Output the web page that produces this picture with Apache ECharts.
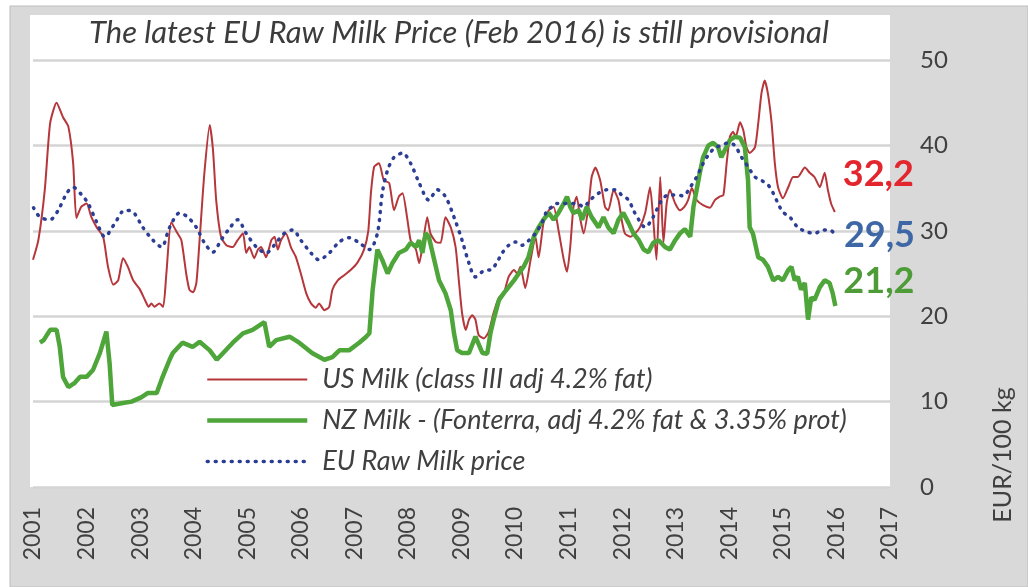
<!DOCTYPE html>
<html>
<head>
<meta charset="utf-8">
<title>Milk prices</title>
<script src="https://cdn.jsdelivr.net/npm/echarts@6/dist/echarts.min.js"></script>
<style>
  html, body { margin: 0; padding: 0; background: #fff; }
  #lineChart { width: 1028px; height: 587px; }
</style>
</head>
<body>
<div id="lineChart"></div>
<script>
// time in years since Jan 2001, price in EUR/100 kg
const usT = [0.00, 0.10, 0.22, 0.32, 0.44, 0.56, 0.66, 0.75, 0.81, 0.90, 1.00, 1.09, 1.19, 1.31, 1.40, 1.50, 1.59, 1.68, 1.77, 1.87,
  1.99, 2.09, 2.16, 2.21, 2.27, 2.36, 2.43, 2.49, 2.58, 2.68, 2.77, 2.86, 2.92, 2.99, 3.05, 3.11, 3.20, 3.30, 3.36, 3.42,
  3.51, 3.61, 3.73, 3.82, 3.92, 3.98, 4.04, 4.13, 4.20, 4.26, 4.35, 4.45, 4.51, 4.57, 4.63, 4.72, 4.82, 4.91, 5.00, 5.10,
  5.19, 5.28, 5.34, 5.44, 5.53, 5.59, 5.69, 5.81, 5.93, 6.06, 6.18, 6.26, 6.31, 6.37, 6.46, 6.55, 6.65, 6.74, 6.83, 6.90,
  6.99, 7.05, 7.15, 7.21, 7.27, 7.36, 7.42, 7.52, 7.61, 7.70, 7.80, 7.89, 7.95, 8.01, 8.08, 8.14, 8.20, 8.26, 8.32, 8.42,
  8.51, 8.60, 8.70, 8.79, 8.88, 8.98, 9.04, 9.10, 9.19, 9.29, 9.38, 9.44, 9.53, 9.63, 9.72, 9.81, 9.91, 9.97, 10.03, 10.09,
  10.15, 10.22, 10.28, 10.37, 10.43, 10.50, 10.59, 10.68, 10.74, 10.84, 10.93, 10.99, 11.05, 11.15, 11.24, 11.33, 11.43, 11.52, 11.58, 11.64,
  11.71, 11.77, 11.83, 11.89, 11.99, 12.08, 12.16, 12.23, 12.30, 12.39, 12.51, 12.64, 12.73, 12.82, 12.89, 12.95, 13.01, 13.07, 13.12, 13.20,
  13.26, 13.32, 13.38, 13.48, 13.54, 13.60, 13.66, 13.72, 13.79, 13.85, 13.91, 14.00, 14.10, 14.19, 14.28, 14.41, 14.50, 14.59, 14.69, 14.78,
  14.84, 14.90, 14.97];
const usPrice = [26.6, 28.9, 34.8, 42.6, 45.0, 43.3, 42.2, 37.9, 31.5, 32.8, 33.2, 31.6, 30.4, 29.3, 25.8, 23.7, 24.2, 26.8, 25.8, 24.2,
  23.2, 21.9, 21.1, 21.5, 21.1, 21.5, 21.1, 25.0, 31.0, 29.9, 28.9, 25.0, 23.1, 22.8, 23.9, 28.9, 36.8, 42.4, 39.5, 33.6,
  29.3, 28.3, 28.1, 28.9, 29.7, 27.4, 28.1, 26.8, 27.8, 28.1, 26.9, 28.9, 29.3, 27.8, 28.9, 29.7, 28.0, 26.9, 25.0, 22.7,
  21.5, 21.0, 21.5, 20.7, 21.1, 23.1, 24.2, 24.8, 25.4, 26.3, 27.8, 30.0, 34.5, 37.5, 37.9, 35.9, 35.6, 32.4, 34.0, 34.4,
  31.3, 28.9, 27.8, 26.2, 28.1, 31.6, 29.7, 28.7, 28.6, 31.6, 30.4, 28.1, 24.2, 20.4, 18.4, 19.6, 20.1, 19.6, 17.8, 17.4,
  18.2, 20.4, 22.2, 22.7, 24.6, 25.4, 25.0, 25.8, 23.3, 26.6, 29.3, 26.9, 30.9, 32.4, 32.8, 30.1, 26.6, 25.2, 28.1, 32.8,
  34.0, 31.3, 29.7, 32.8, 36.3, 37.4, 35.9, 32.8, 32.4, 34.8, 33.6, 31.3, 29.7, 29.3, 29.7, 30.4, 32.1, 35.1, 31.3, 26.6,
  36.3, 28.6, 33.2, 34.8, 33.2, 32.4, 32.8, 33.6, 35.0, 33.6, 33.0, 32.7, 33.6, 34.0, 34.2, 37.9, 41.0, 41.6, 41.0, 42.7,
  41.8, 39.8, 39.1, 39.8, 42.6, 46.1, 47.6, 46.1, 42.6, 37.9, 35.1, 33.8, 35.1, 36.3, 36.3, 37.4, 36.8, 36.3, 35.1, 36.8,
  34.8, 33.2, 32.2];

const nzT = [0.13, 0.20, 0.32, 0.44, 0.50, 0.56, 0.66, 0.78, 0.88, 1.00, 1.12, 1.25, 1.37, 1.43, 1.48, 1.65, 1.84, 2.02, 2.14, 2.31,
  2.42, 2.55, 2.61, 2.79, 2.98, 3.11, 3.30, 3.43, 3.55, 3.73, 3.92, 4.10, 4.32, 4.41, 4.54, 4.79, 4.97, 5.21, 5.44, 5.59,
  5.72, 5.90, 6.09, 6.22, 6.28, 6.34, 6.43, 6.52, 6.62, 6.71, 6.83, 6.96, 7.05, 7.15, 7.21, 7.27, 7.33, 7.39, 7.49, 7.58,
  7.70, 7.80, 7.86, 7.92, 8.01, 8.14, 8.26, 8.39, 8.48, 8.54, 8.60, 8.70, 8.79, 8.88, 8.98, 9.07, 9.16, 9.25, 9.35, 9.44,
  9.53, 9.63, 9.72, 9.81, 9.91, 9.97, 10.03, 10.09, 10.19, 10.25, 10.34, 10.43, 10.56, 10.65, 10.74, 10.84, 10.93, 11.02, 11.12, 11.21,
  11.31, 11.40, 11.49, 11.58, 11.68, 11.80, 11.89, 11.99, 12.08, 12.17, 12.27, 12.33, 12.39, 12.45, 12.51, 12.61, 12.70, 12.79, 12.85, 12.92,
  13.01, 13.10, 13.20, 13.29, 13.35, 13.38, 13.44, 13.54, 13.63, 13.72, 13.82, 13.91, 14.00, 14.10, 14.16, 14.22, 14.28, 14.34, 14.41, 14.47,
  14.53, 14.59, 14.69, 14.78, 14.87, 14.93, 14.98];
const nzPrice = [16.9, 17.2, 18.4, 18.4, 16.4, 12.9, 11.7, 12.2, 12.9, 12.9, 13.7, 15.7, 18.2, 14.5, 9.6, 9.8, 10.0, 10.5, 11.0, 11.0,
  12.9, 14.9, 15.7, 16.9, 16.4, 17.0, 16.0, 14.9, 15.7, 16.9, 18.0, 18.4, 19.3, 16.4, 17.2, 17.6, 16.9, 15.7, 14.9, 15.2,
  16.0, 16.0, 16.9, 17.6, 18.0, 23.0, 27.8, 26.6, 25.0, 26.2, 27.4, 27.8, 28.6, 28.1, 28.9, 27.4, 29.7, 29.3, 26.6, 24.2,
  22.7, 20.7, 18.0, 16.0, 15.7, 15.7, 17.6, 15.7, 15.6, 18.0, 19.6, 21.9, 22.7, 23.4, 24.2, 25.0, 25.8, 26.9, 29.3, 30.4,
  31.3, 32.1, 31.3, 32.1, 33.2, 34.0, 32.8, 32.1, 32.4, 31.3, 32.8, 31.6, 30.4, 31.6, 30.4, 29.7, 31.3, 32.1, 30.9, 29.7,
  28.9, 27.8, 27.5, 28.6, 28.9, 28.1, 27.8, 28.9, 29.7, 30.2, 29.3, 32.8, 34.8, 36.8, 38.6, 40.0, 40.3, 39.8, 38.6, 39.5,
  40.6, 41.0, 40.9, 39.8, 35.9, 30.4, 29.7, 26.9, 26.6, 25.8, 24.2, 24.6, 24.2, 25.4, 25.8, 24.2, 24.6, 23.1, 23.9, 19.6,
  22.2, 21.9, 23.4, 24.2, 23.9, 22.7, 21.2];

const euT = [0.01, 0.13, 0.32, 0.47, 0.63, 0.75, 0.91, 1.03, 1.19, 1.34, 1.53, 1.71, 1.87, 2.05, 2.24, 2.40, 2.55, 2.74, 2.89, 3.05,
  3.20, 3.36, 3.51, 3.67, 3.82, 3.98, 4.17, 4.35, 4.54, 4.69, 4.85, 5.00, 5.19, 5.34, 5.53, 5.72, 5.90, 6.09, 6.28, 6.43,
  6.52, 6.62, 6.74, 6.90, 7.05, 7.21, 7.39, 7.55, 7.70, 7.86, 8.01, 8.14, 8.26, 8.45, 8.54, 8.66, 8.76, 8.88, 9.01, 9.13,
  9.26, 9.38, 9.50, 9.60, 9.69, 9.78, 9.91, 10.03, 10.15, 10.28, 10.40, 10.56, 10.71, 10.87, 10.99, 11.12, 11.21, 11.31, 11.43, 11.55,
  11.64, 11.74, 11.86, 11.99, 12.14, 12.27, 12.39, 12.48, 12.61, 12.73, 12.85, 12.98, 13.10, 13.23, 13.35, 13.48, 13.60, 13.72, 13.82, 13.91,
  14.00, 14.13, 14.28, 14.44, 14.59, 14.75, 14.87, 14.99];
const euPrice = [32.7, 31.6, 31.3, 32.4, 34.4, 35.1, 34.2, 33.2, 31.0, 29.3, 30.9, 32.4, 32.2, 30.4, 28.9, 28.1, 30.4, 32.1, 31.6, 30.4,
  28.6, 27.5, 28.9, 30.3, 31.3, 29.7, 28.1, 27.4, 28.6, 29.7, 30.1, 28.9, 27.4, 26.6, 27.4, 28.7, 29.2, 28.6, 27.8, 29.7,
  34.4, 37.1, 38.6, 39.1, 37.9, 35.6, 33.6, 34.8, 34.0, 31.6, 28.9, 26.2, 24.6, 25.4, 25.4, 26.3, 27.4, 28.3, 28.7, 28.3,
  28.9, 29.7, 30.9, 32.4, 32.8, 33.2, 33.2, 33.2, 33.2, 32.8, 33.6, 34.4, 34.8, 34.8, 34.2, 33.6, 32.4, 31.3, 30.4, 31.3,
  32.4, 33.6, 34.2, 34.2, 34.1, 35.1, 36.3, 37.5, 38.9, 39.7, 40.0, 40.3, 40.0, 38.6, 37.5, 36.3, 35.9, 35.4, 34.4, 33.2,
  32.2, 31.6, 30.4, 29.9, 29.7, 30.1, 30.1, 29.5];

const seriesNames = ['US Milk (class III adj 4.2% fat)', 'NZ Milk - (Fonterra, adj 4.2% fat & 3.35% prot)', 'EU Raw Milk price'];
const seriesColors = ['#b5373b', '#4ea53a', '#2c3d94'];
const labelColors = ['#e3262d', '#4e9c37', '#3e67a6'];
const startYear = 2001;
const endYear = 2017;

function toPoints(times, values) {
  return times.map((t, i) => [startYear + t, values[i]]);
}

function commaLabel(params) {
  return params.value[1].toFixed(1).replace('.', ',');
}

let chartContainer = document.getElementById('lineChart');
let myChart = echarts.init(chartContainer);
const font = 'Lato, "Open Sans", sans-serif';

let lineStyles = [
  { color: seriesColors[0], width: 2 },
  { color: seriesColors[1], width: 4.5 },
  { color: seriesColors[2], width: 3.5, type: [1, 7], cap: 'round' }
];

let option = {
  animation: false,
  textStyle: { fontFamily: font },
  graphic: [
    {
      type: 'rect', z: -10, silent: true,
      shape: { x: 10, y: 6, width: 1018, height: 581 },
      style: { fill: '#d9d9d9', stroke: '#bdbdbd', lineWidth: 1 }
    },
    {
      type: 'rect', z: -9, silent: true,
      shape: { x: 30, y: 15, width: 860, height: 472 },
      style: { fill: '#ffffff' }
    },
    {
      type: 'text', silent: true,
      x: 459, y: 33,
      style: {
        text: 'The latest EU Raw Milk Price (Feb 2016) is still provisional',
        fill: '#3c3c3c', fontSize: 31, fontStyle: 'italic', fontFamily: font,
        align: 'center', verticalAlign: 'middle', textAlign: 'center', textVerticalAlign: 'middle'
      }
    },
    {
      type: 'text', silent: true,
      x: 1003, y: 455, rotation: Math.PI / 2,
      style: {
        text: 'EUR/100 kg', fill: '#404040', fontSize: 25, fontFamily: font,
        align: 'center', verticalAlign: 'middle', textAlign: 'center', textVerticalAlign: 'middle'
      }
    }
  ],
  grid: {
    left: 33,
    right: 138,
    top: 60,
    bottom: 100
  },
  legend: {
    orient: 'vertical',
    left: 205,
    top: 366,
    padding: 0,
    itemWidth: 100,
    itemHeight: 14,
    itemGap: 14,
    data: seriesNames.map((name, i) => ({ name: name, lineStyle: lineStyles[i] })),
    itemStyle: { opacity: 0 },
    textStyle: {
      fontSize: 27,
      fontStyle: 'italic',
      color: '#404040',
      padding: [0, 0, 0, 10]
    }
  },
  xAxis: {
    type: 'value',
    min: startYear,
    max: endYear,
    interval: 1,
    axisLine: { show: false },
    axisTick: { show: false },
    splitLine: { show: false },
    axisLabel: {
      rotate: 90,
      margin: 20,
      fontSize: 23,
      color: '#404040',
      formatter: value => String(value)
    }
  },
  yAxis: {
    type: 'value',
    position: 'right',
    min: 0,
    max: 50,
    interval: 10,
    axisLine: { show: false },
    axisTick: { show: false },
    axisLabel: {
      margin: 30,
      fontSize: 24,
      color: '#404040'
    },
    splitLine: {
      lineStyle: { color: '#d4d4d4', width: 2.5 }
    }
  },
  series: [
    {
      name: seriesNames[0],
      type: 'line',
      symbol: 'none',
      smooth: 0.2,
      data: toPoints(usT, usPrice),
      lineStyle: lineStyles[0],
      itemStyle: { color: seriesColors[0] },
      endLabel: {
        show: true, formatter: commaLabel, offset: [0, -38],
        fontSize: 36, fontWeight: 'bold', color: labelColors[0]
      }
    },
    {
      name: seriesNames[1],
      type: 'line',
      symbol: 'none',
      data: toPoints(nzT, nzPrice),
      lineStyle: lineStyles[1],
      itemStyle: { color: seriesColors[1] },
      endLabel: {
        show: true, formatter: commaLabel, offset: [0, -25],
        fontSize: 36, fontWeight: 'bold', color: labelColors[1]
      }
    },
    {
      name: seriesNames[2],
      type: 'line',
      symbol: 'none',
      smooth: 0.3,
      data: toPoints(euT, euPrice),
      lineStyle: lineStyles[2],
      itemStyle: { color: seriesColors[2] },
      endLabel: {
        show: true, formatter: commaLabel, offset: [0, 0],
        fontSize: 36, fontWeight: 'bold', color: labelColors[2]
      }
    }
  ]
};

myChart.setOption(option);
</script>
</body>
</html>
